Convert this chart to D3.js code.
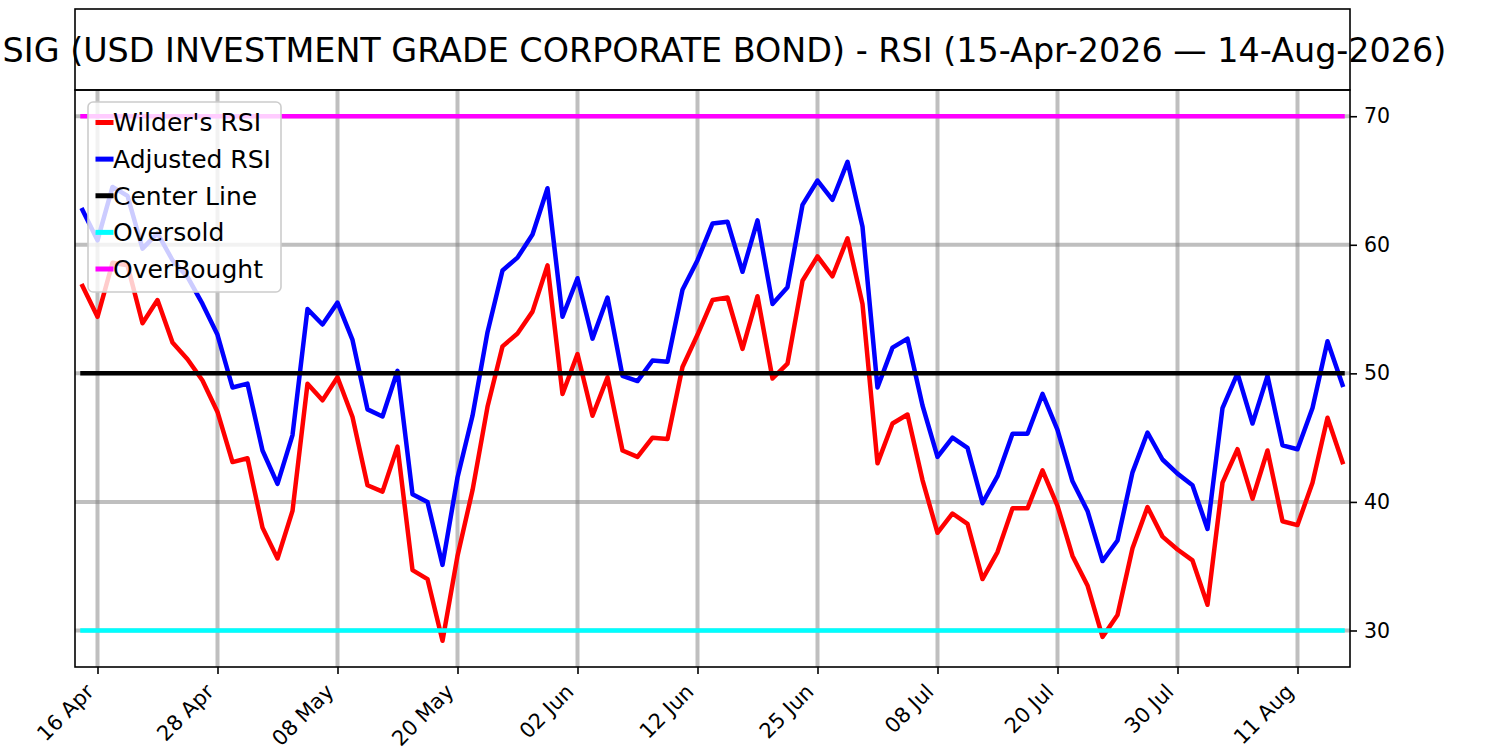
<!DOCTYPE html>
<html>
<head>
<meta charset="utf-8">
<script src="https://cdn.jsdelivr.net/npm/d3@7"></script>
<style>
  html, body { margin: 0; padding: 0; background: #fff; }
  svg { display: block; font-family: "DejaVu Sans", sans-serif; }
</style>
</head>
<body>
<div id="chart"></div>
<script>
const width = 1500;
const height = 750;

// trading days, 15 Apr 2026 to 14 Aug 2026
const tradingDays = [
  "2026-04-15", "2026-04-16", "2026-04-17", "2026-04-20", "2026-04-21", "2026-04-22", "2026-04-23", "2026-04-24",
  "2026-04-27", "2026-04-28", "2026-04-29", "2026-04-30", "2026-05-01", "2026-05-04", "2026-05-05", "2026-05-06",
  "2026-05-07", "2026-05-08", "2026-05-11", "2026-05-12", "2026-05-13", "2026-05-14", "2026-05-15", "2026-05-18",
  "2026-05-19", "2026-05-20", "2026-05-21", "2026-05-22", "2026-05-26", "2026-05-27", "2026-05-28", "2026-05-29",
  "2026-06-01", "2026-06-02", "2026-06-03", "2026-06-04", "2026-06-05", "2026-06-08", "2026-06-09", "2026-06-10",
  "2026-06-11", "2026-06-12", "2026-06-15", "2026-06-16", "2026-06-17", "2026-06-18", "2026-06-22", "2026-06-23",
  "2026-06-24", "2026-06-25", "2026-06-26", "2026-06-29", "2026-06-30", "2026-07-01", "2026-07-02", "2026-07-06",
  "2026-07-07", "2026-07-08", "2026-07-09", "2026-07-10", "2026-07-13", "2026-07-14", "2026-07-15", "2026-07-16",
  "2026-07-17", "2026-07-20", "2026-07-21", "2026-07-22", "2026-07-23", "2026-07-24", "2026-07-27", "2026-07-28",
  "2026-07-29", "2026-07-30", "2026-07-31", "2026-08-03", "2026-08-04", "2026-08-05", "2026-08-06", "2026-08-07",
  "2026-08-10", "2026-08-11", "2026-08-12", "2026-08-13", "2026-08-14"
];

const wilderRsi = [
  56.8, 54.4, 58.6, 58.4, 53.9, 55.7, 52.4, 51.1, 49.45, 47.0,
  43.1, 43.4, 38.0, 35.6, 39.3, 49.2, 47.9, 49.7, 46.6, 41.3,
  40.8, 44.3, 34.7, 34.0, 29.2, 35.8, 40.9, 47.4, 52.1, 53.1,
  54.8, 58.4, 48.4, 51.5, 46.7, 49.7, 44.0, 43.5, 45.0, 44.9,
  50.5, 53.0, 55.7, 55.9, 51.9, 56.0, 49.6, 50.75, 57.2, 59.1,
  57.55, 60.5, 55.4, 43.0, 46.1, 46.8, 41.7, 37.6, 39.1, 38.3,
  34.0, 36.1, 39.5, 39.5, 42.45, 39.7, 35.8, 33.5, 29.5, 31.2,
  36.4, 39.6, 37.3, 36.3, 35.45, 32.0, 41.5, 44.1, 40.25, 44.0,
  38.5, 38.2, 41.5, 46.55, 43.1
];

const adjustedRsi = [
  62.7, 60.35, 64.5, 63.8, 59.7, 60.9, 58.8, 57.5, 55.4, 53.0,
  48.9, 49.2, 44.0, 41.4, 45.2, 55.0, 53.8, 55.5, 52.6, 47.2,
  46.65, 50.2, 40.6, 40.0, 35.1, 41.9, 46.7, 53.2, 58.0, 59.0,
  60.8, 64.4, 54.4, 57.4, 52.7, 55.9, 49.8, 49.4, 51.0, 50.9,
  56.5, 58.8, 61.65, 61.8, 57.9, 61.9, 55.4, 56.7, 63.1, 65.0,
  63.5, 66.45, 61.4, 48.9, 52.0, 52.7, 47.5, 43.5, 45.0, 44.2,
  39.9, 42.0, 45.3, 45.3, 48.4, 45.6, 41.6, 39.3, 35.4, 37.0,
  42.3, 45.4, 43.3, 42.2, 41.3, 37.9, 47.3, 50.0, 46.1, 49.8,
  44.4, 44.1, 47.3, 52.5, 49.1
];

const centerLevel = 50;
const oversoldLevel = 30;
const overboughtLevel = 70;

const xTickDates = ["2026-04-16", "2026-04-28", "2026-05-08", "2026-05-20", "2026-06-02", "2026-06-12",
  "2026-06-25", "2026-07-08", "2026-07-20", "2026-07-30", "2026-08-11"];
const yTicks = [30, 40, 50, 60, 70];

const titleText = "SIG (USD INVESTMENT GRADE CORPORATE BOND) - RSI (15-Apr-2026 \u2014 14-Aug-2026)";

const series = [
  { label: "Wilder's RSI", color: "#ff0000", values: wilderRsi },
  { label: "Adjusted RSI", color: "#0000ff", values: adjustedRsi },
  { label: "Center Line", color: "#000000", values: tradingDays.map(() => centerLevel) },
  { label: "Oversold", color: "#00ffff", values: tradingDays.map(() => oversoldLevel) },
  { label: "OverBought", color: "#ff00ff", values: tradingDays.map(() => overboughtLevel) }
];

const plot = { left: 75, right: 1350, top: 90, bottom: 667 };
const titleBox = { top: 9, bottom: 90 };

const parseDay = d3.utcParse("%Y-%m-%d");
const fmtTick = d3.utcFormat("%d %b");

const svg = d3.select("#chart").append("svg")
  .attr("width", width)
  .attr("height", height)
  .attr("viewBox", `0 0 ${width} ${height}`);

svg.append("rect").attr("width", width).attr("height", height).attr("fill", "#fff");

const n = tradingDays.length;
const x = d3.scaleLinear().domain([-0.5, n - 0.5]).range([plot.left, plot.right]);

const allVals = series.flatMap((s) => s.values);
const lo = d3.min(allVals);
const hi = d3.max(allVals);
const pad = (hi - lo) * 0.05;
const y = d3.scaleLinear().domain([lo - pad, hi + pad]).range([plot.bottom, plot.top]);

const tickIdx = xTickDates.map((d) => tradingDays.indexOf(d));

// grid
const grid = svg.append("g");
grid.selectAll("line.vx")
  .data(tickIdx)
  .join("line")
  .attr("x1", (d) => x(d)).attr("x2", (d) => x(d))
  .attr("y1", plot.top).attr("y2", plot.bottom)
  .attr("stroke", "#808080").attr("stroke-opacity", 0.5).attr("stroke-width", 4);
grid.selectAll("line.hy")
  .data(yTicks)
  .join("line")
  .attr("x1", plot.left).attr("x2", plot.right)
  .attr("y1", (d) => y(d)).attr("y2", (d) => y(d))
  .attr("stroke", "#808080").attr("stroke-opacity", 0.5).attr("stroke-width", 4);

// series lines
const line = d3.line().x((d, i) => x(i)).y((d) => y(d));
svg.append("g")
  .selectAll("path")
  .data(series)
  .join("path")
  .attr("d", (d) => line(d.values))
  .attr("fill", "none")
  .attr("stroke", (d) => d.color)
  .attr("stroke-width", 4.5)
  .attr("stroke-linejoin", "round")
  .attr("stroke-linecap", "square");

// axes
const xAxis = svg.append("g")
  .attr("transform", `translate(0,${plot.bottom})`)
  .call(d3.axisBottom(x).tickValues(tickIdx).tickSize(7).tickFormat((i) => fmtTick(parseDay(tradingDays[i]))));
xAxis.select(".domain").remove();
xAxis.selectAll(".tick line").attr("stroke", "#000").attr("stroke-width", 1.6);
xAxis.selectAll(".tick text")
  .attr("font-family", "DejaVu Sans")
  .attr("font-size", 21)
  .attr("fill", "#000")
  .attr("text-anchor", "end")
  .attr("dy", null)
  .attr("y", null)
  .attr("transform", "translate(-3,26) rotate(-45)");

const yAxis = svg.append("g")
  .attr("transform", `translate(${plot.right},0)`)
  .call(d3.axisRight(y).tickValues(yTicks).tickSize(7).tickPadding(7).tickFormat(d3.format("d")));
yAxis.select(".domain").remove();
yAxis.selectAll(".tick line").attr("stroke", "#000").attr("stroke-width", 1.6);
yAxis.selectAll(".tick text")
  .attr("font-family", "DejaVu Sans")
  .attr("font-size", 20.5)
  .attr("fill", "#000");

// plot frame
svg.append("rect")
  .attr("x", plot.left).attr("y", plot.top)
  .attr("width", plot.right - plot.left).attr("height", plot.bottom - plot.top)
  .attr("fill", "none").attr("stroke", "#000").attr("stroke-width", 1.6);

// title box
svg.append("rect")
  .attr("x", plot.left).attr("y", titleBox.top)
  .attr("width", plot.right - plot.left).attr("height", titleBox.bottom - titleBox.top)
  .attr("fill", "none").attr("stroke", "#000").attr("stroke-width", 1.6);

svg.append("text")
  .attr("x", 724.5)
  .attr("y", 62)
  .attr("text-anchor", "middle")
  .attr("font-size", 33.4)
  .attr("fill", "#000")
  .text(titleText);

// legend
const legend = svg.append("g");
legend.append("rect")
  .attr("x", 88).attr("y", 102)
  .attr("width", 193).attr("height", 190)
  .attr("rx", 5)
  .attr("fill", "#fff").attr("fill-opacity", 0.8)
  .attr("stroke", "#cccccc").attr("stroke-width", 1.6);

const rowY = d3.scaleLinear().domain([0, series.length - 1]).range([122.5, 269]);
const rows = legend.selectAll("g.row")
  .data(series)
  .join("g")
  .attr("transform", (d, i) => `translate(0,${rowY(i)})`);
rows.append("line")
  .attr("x1", 98).attr("x2", 111)
  .attr("stroke", (d) => d.color)
  .attr("stroke-width", 5)
  .attr("stroke-linecap", "square");
rows.append("text")
  .attr("x", 113)
  .attr("y", 8.8)
  .attr("font-size", 25)
  .attr("fill", "#000")
  .text((d) => d.label);
</script>
</body>
</html>
